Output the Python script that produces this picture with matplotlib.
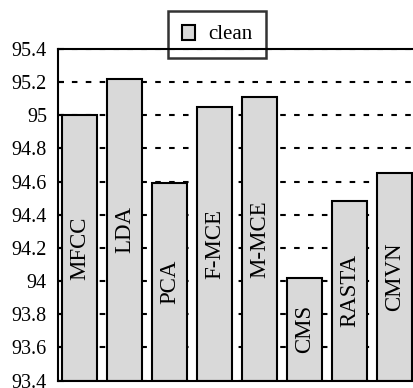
import matplotlib
matplotlib.use("Agg")
import matplotlib.pyplot as plt
from matplotlib.patches import Patch

# Recognition accuracy (%) for each front-end feature, clean condition
methods = ["MFCC", "LDA", "PCA", "F-MCE", "M-MCE", "CMS", "RASTA", "CMVN"]
clean = [95.00, 95.22, 94.59, 95.05, 95.11, 94.02, 94.48, 94.65]

y_ticks = [93.4, 93.6, 93.8, 94.0, 94.2, 94.4, 94.6, 94.8, 95.0, 95.2, 95.4]
y_tick_labels = ["93.4", "93.6", "93.8", "94", "94.2", "94.4", "94.6",
                 "94.8", "95", "95.2", "95.4"]
legend_label = "clean"

plt.rcParams["font.family"] = ["Liberation Serif", "DejaVu Serif"]
plt.rcParams["lines.scale_dashes"] = False

W, H, DPI = 413, 388, 100
fig = plt.figure(figsize=(W / DPI, H / DPI), dpi=DPI)

# axes: left spine at x=58 px, top at y=49 px, bottom at y=380.5 px;
# the right side runs past the figure edge
left_px, right_px, top_px, bot_px = 58, 430, 49, 380.5
ax = fig.add_axes([left_px / W, 1 - bot_px / H,
                   (right_px - left_px) / W, (bot_px - top_px) / H])

face = "#d9d9d9"
lw = 1.5
xs = list(range(len(methods)))
ax.bar(xs, [v - y_ticks[0] for v in clean], bottom=y_ticks[0], width=0.78,
       color=face, edgecolor="black", linewidth=lw, zorder=2)

# method names written vertically in the middle of each bar
for x, v, name in zip(xs, clean, methods):
    ax.text(x, (v + y_ticks[0]) / 2, name, rotation=90, ha="center",
            va="center", fontsize=16.5, zorder=3)

px_per_unit = 45.0
x0 = -21.5 / px_per_unit
ax.set_xlim(x0, x0 + (right_px - left_px) / px_per_unit)
ax.set_ylim(y_ticks[0], y_ticks[-1])
ax.set_yticks(y_ticks)
ax.set_yticklabels(y_tick_labels)
ax.set_xticks([])

ax.tick_params(axis="y", direction="in", length=4, width=lw, pad=8,
               labelsize=14.5)
ax.set_axisbelow(True)
ax.yaxis.grid(True, color="black", linewidth=lw, linestyle=(0, (4.0, 6.0)))

for side in ["left", "top", "bottom"]:
    ax.spines[side].set_linewidth(lw)
ax.spines["right"].set_visible(False)

handle = Patch(facecolor=face, edgecolor="black", linewidth=lw)
leg = fig.legend([handle], [legend_label], loc="center",
                 bbox_to_anchor=(217 / W, 1 - 34.5 / H),
                 fontsize=15, frameon=True, fancybox=False,
                 handlelength=0.65, handleheight=0.75, handletextpad=0.6,
                 borderpad=0.65, borderaxespad=0)
frame = leg.get_frame()
frame.set_facecolor("none")
frame.set_edgecolor("black")
frame.set_linewidth(1.8)

fig.savefig("out.png", dpi=DPI)
